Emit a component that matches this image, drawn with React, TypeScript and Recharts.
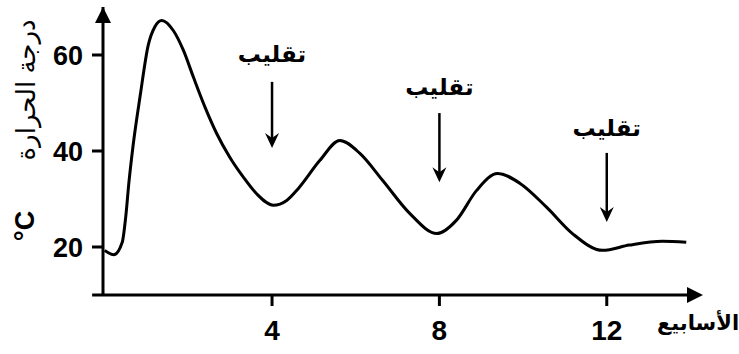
import React from 'react';
import { LineChart, Line, XAxis, YAxis, ReferenceLine, ReferenceDot } from 'recharts';

const weeks = [0, 0.22, 0.42, 0.5, 0.58, 0.68, 0.85, 1.04, 1.2, 1.365, 1.64, 1.88, 2.12, 2.4, 2.68, 2.99, 3.31, 3.63, 4.03, 4.35, 4.63, 5.14, 5.62, 6.1, 6.65, 7.29, 7.94, 8.41, 8.89, 9.39, 9.92, 10.56, 11.18, 11.9, 12.54, 13.33, 13.9];
const temps = [19.3, 18.4, 21.0, 26.0, 33.5, 41.2, 51.6, 62.0, 65.9, 67.2, 65.1, 61.0, 55.4, 49.1, 43.6, 38.7, 34.6, 31.1, 28.7, 29.7, 32.2, 38.0, 42.2, 39.5, 33.8, 27.0, 22.8, 25.6, 31.8, 35.3, 33.3, 28.3, 22.8, 19.3, 20.4, 21.2, 21.0];

const xTicks = [4, 8, 12];
const yTicks = [20, 40, 60];

// annotations: "تقليب" (turning) at weeks 4, 8, 12
const turnWeeks = [4, 8, 12];
const turnLabelY = [60.2, 53.3, 44.7];
const turnArrowFrom = [54.4, 47.9, 39.6];
const turnArrowTo = [40.6, 33.5, 25.2];
const turnText = 'تقليب';

const xTitle = 'الأسابيع';
const yTitle = 'درجة الحرارة';
const yUnit = '°C';

const X_MIN = -0.04;
const X_MAX = 14.3;
const Y_MIN = 10;
const Y_MAX = 70;

const data = weeks.map((w, i) => ({ week: w, temp: temps[i] }));

const FONT = "'Liberation Sans', Arial, 'DejaVu Sans', sans-serif";

const RightArrowHead = (p: any) => {
  const { cx, cy } = p;
  if (cx == null || cy == null) return null;
  return <polygon points={`${cx},${cy} ${cx - 16},${cy - 8} ${cx - 16},${cy + 8}`} fill="#000" />;
};

const UpArrowHead = (p: any) => {
  const { cx, cy } = p;
  if (cx == null || cy == null) return null;
  return <polygon points={`${cx},${cy} ${cx - 8},${cy + 16} ${cx + 8},${cy + 16}`} fill="#000" />;
};

const DownArrowHead = (p: any) => {
  const { cx, cy } = p;
  if (cx == null || cy == null) return null;
  return <polygon points={`${cx},${cy} ${cx - 7},${cy - 15} ${cx},${cy - 10} ${cx + 7},${cy - 15}`} fill="#000" />;
};

const TurnLabel = (p: any) => {
  const { cx, cy } = p;
  if (cx == null || cy == null) return null;
  return (
    <text x={cx} y={cy} textAnchor="middle" dominantBaseline="central" fontFamily={FONT} fontWeight="bold" fontSize={23} fill="#000">
      {turnText}
    </text>
  );
};

const YTitle = () => (
  <g>
    <text x={0} y={0} transform="translate(26,90) rotate(-90)" textAnchor="middle" dominantBaseline="central" fontFamily={FONT} fontSize={26} fill="#000">
      {yTitle}
    </text>
    <text x={0} y={0} transform="translate(25,226) rotate(-90)" textAnchor="middle" dominantBaseline="central" fontFamily={FONT} fontWeight="bold" fontSize={27} fill="#000">
      {yUnit}
    </text>
  </g>
);

const XTitle = () => (
  <text x={698} y={322} textAnchor="middle" dominantBaseline="central" fontFamily={FONT} fontWeight="bold" fontSize={21} fill="#000">
    {xTitle}
  </text>
);

export default function App() {
  return (
    <div style={{ position: 'absolute', left: 0, top: 0, background: '#fff' }}>
      <LineChart width={739} height={354} data={data} margin={{ top: 7, right: 36, left: 43, bottom: 19 }}>
        <XAxis
          dataKey="week"
          type="number"
          domain={[X_MIN, X_MAX]}
          allowDataOverflow
          ticks={xTicks}
          axisLine={false}
          tickLine={{ stroke: '#000', strokeWidth: 3 }}
          tickSize={11}
          tickMargin={14}
          height={40}
          tick={{ fill: '#000', fontSize: 28, fontWeight: 'bold', fontFamily: FONT }}
          label={{ content: () => <XTitle /> }}
        />
        <YAxis
          type="number"
          domain={[Y_MIN, Y_MAX]}
          allowDataOverflow
          ticks={yTicks}
          width={60}
          axisLine={{ stroke: '#000', strokeWidth: 3 }}
          tickLine={{ stroke: '#000', strokeWidth: 3 }}
          tickSize={11}
          tickMargin={9}
          tick={{ fill: '#000', fontSize: 27, fontWeight: 'bold', fontFamily: FONT }}
          label={{ content: () => <YTitle /> }}
        />
        <ReferenceLine
          segment={[{ x: -0.3, y: Y_MIN }, { x: X_MAX - 0.2, y: Y_MIN }]}
          stroke="#000"
          strokeWidth={3}
          ifOverflow="visible"
        />
        <ReferenceDot x={X_MAX} y={Y_MIN} ifOverflow="visible" shape={RightArrowHead} />
        <ReferenceDot x={X_MIN} y={Y_MAX} ifOverflow="visible" shape={UpArrowHead} />
        {turnWeeks.map((w, i) => (
          <ReferenceLine
            key={'s' + i}
            segment={[{ x: w, y: turnArrowFrom[i] }, { x: w, y: turnArrowTo[i] + 1.5 }]}
            stroke="#000"
            strokeWidth={2.5}
            ifOverflow="visible"
          />
        ))}
        {turnWeeks.map((w, i) => (
          <ReferenceDot key={'h' + i} x={w} y={turnArrowTo[i]} ifOverflow="visible" shape={DownArrowHead} />
        ))}
        {turnWeeks.map((w, i) => (
          <ReferenceDot key={'t' + i} x={w} y={turnLabelY[i]} ifOverflow="visible" shape={TurnLabel} />
        ))}
        <Line
          type="monotone"
          dataKey="temp"
          stroke="#000"
          strokeWidth={3}
          dot={false}
          activeDot={false}
          isAnimationActive={false}
        />
      </LineChart>
    </div>
  );
}
